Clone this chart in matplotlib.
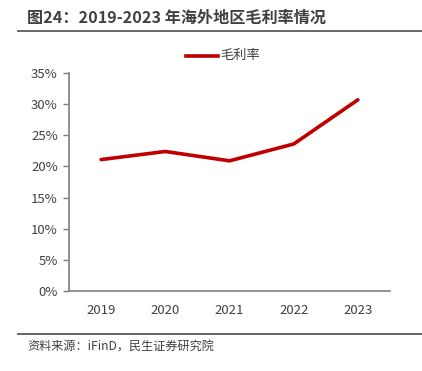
import matplotlib
matplotlib.use("Agg")
import matplotlib.pyplot as plt
from matplotlib.lines import Line2D

plt.rcParams['font.family'] = ['Noto Sans CJK SC', 'DejaVu Sans']

years = ["2019", "2020", "2021", "2022", "2023"]
margin = [21.1, 22.4, 20.9, 23.6, 30.7]
yticks = [0, 5, 10, 15, 20, 25, 30, 35]
ytick_labels = ["0%", "5%", "10%", "15%", "20%", "25%", "30%", "35%"]

W, H = 422, 371
fig = plt.figure(figsize=(W/100, H/100), dpi=100)
ax = fig.add_axes([69/W, (H-291)/H, (390-69)/W, (291-73)/H])

ax.plot(range(len(years)), margin, color="#C00000", lw=2.6, solid_capstyle="round")
ax.set_xlim(-0.5, len(years)-0.5)
ax.set_ylim(0, 35)
ax.set_xticks(range(len(years)))
ax.set_xticklabels(years)
ax.set_yticks(yticks)
ax.set_yticklabels(ytick_labels)

for s in ["top", "right"]:
    ax.spines[s].set_visible(False)
for s in ["left", "bottom"]:
    ax.spines[s].set_color("#7f7f7f")
    ax.spines[s].set_linewidth(1.2)
ax.tick_params(axis="x", length=0, pad=9, labelsize=9.5, labelcolor="#404040")
ax.tick_params(axis="y", length=4, width=1, color="#7f7f7f", direction="out",
               pad=4, labelsize=9.5, labelcolor="#404040")

# legend
fig.lines.append(Line2D([186/W, 218/W], [(H-55.7)/H]*2, color="#C00000", lw=2.6,
                        transform=fig.transFigure))
fig.text(220/W, (H-56)/H, "毛利率", fontsize=9.5, color="#404040", va="center", ha="left")

# title
fig.text(27/W, (H-18)/H, "图24：2019-2023 年海外地区毛利率情况", fontsize=11.6,
         fontweight="bold", color="#404040", va="center", ha="left")
fig.lines.append(Line2D([18/W, 1], [(H-31)/H]*2, color="#595959", lw=1.3,
                        transform=fig.transFigure))
fig.lines.append(Line2D([18/W, 1], [(H-334)/H]*2, color="#595959", lw=1.3,
                        transform=fig.transFigure))
fig.text(27/W, (H-347)/H, "资料来源：iFinD，民生证券研究院", fontsize=8.7,
         color="#404040", va="center", ha="left")

fig.savefig("out.png", dpi=100)
